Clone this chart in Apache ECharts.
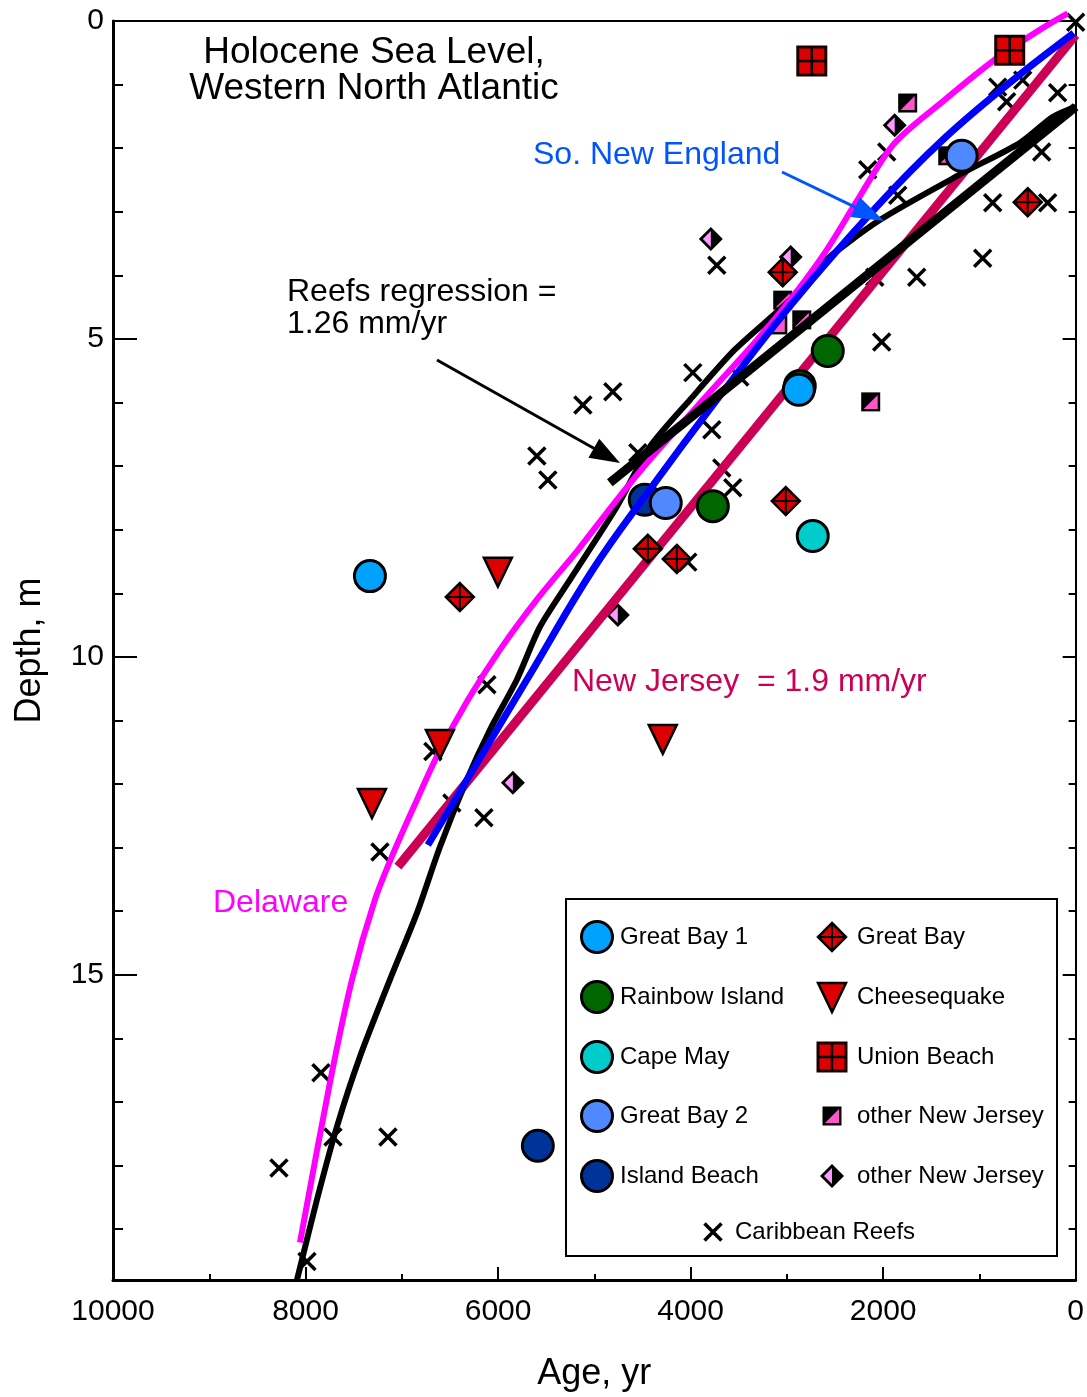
<!DOCTYPE html>
<html>
<head>
<meta charset="utf-8">
<title>Holocene Sea Level, Western North Atlantic</title>
<script src="https://cdn.jsdelivr.net/npm/echarts@6.0.0/dist/echarts.min.js"></script>
<style>
  html, body { margin: 0; padding: 0; background: #fff; }
  #chart { width: 1087px; height: 1397px; }
</style>
</head>
<body>
<div id="chart"></div>
<script>
// 样点数据: [年龄 yr, 深度 m]
const greatBay1 = [[7331, 8.73], [2876, 5.80]];
const rainbowIsland = [[2575, 5.19], [3769, 7.63], [2866, 5.74]];
const capeMay = [[2731, 8.10]];
const greatBay2 = [[1184, 2.12], [4258, 7.58]];
const islandBeach = [[5587, 17.69], [4476, 7.53]];
const greatBay = [[6397, 9.06], [4444, 8.30], [4143, 8.46], [3011, 7.55], [3043, 3.95], [498, 2.85]];
const cheesequake = [[6002, 8.66], [7310, 12.30], [6604, 11.37], [4289, 11.29]];
const unionBeach = [[2741, 0.63], [685, 0.46]];
const otherNJSquare = [[1745, 1.29], [2129, 5.99], [1329, 2.12], [3043, 4.39], [2845, 4.70], [3094, 4.78]];
const otherNJDiamond = [[3790, 3.43], [2960, 3.71], [1880, 1.64], [4756, 9.34], [5846, 11.98]];
const caribbeanReefs = [
  [0, 0.02], [810, 1.04], [550, 0.93], [717, 1.27], [187, 1.13], [1963, 2.06], [2160, 2.34],
  [1848, 2.74], [353, 2.06], [862, 2.86], [291, 2.86], [966, 3.73], [1651, 4.03], [2087, 4.03],
  [3728, 3.84], [2015, 5.05], [3977, 5.53], [3489, 5.60], [4808, 5.83], [5119, 6.04], [3780, 6.43],
  [3676, 7.03], [3562, 7.34], [5597, 6.84], [5483, 7.22], [4548, 6.79], [4029, 8.51], [6116, 10.44],
  [6677, 11.49], [6480, 12.30], [6147, 12.53], [7227, 13.07], [7840, 16.54], [7715, 17.55],
  [7144, 17.55], [8276, 18.04], [7985, 19.51]
];

// 曲线
const delawareCurve = [
  [8058, 19.21], [7747, 16.70], [7518, 15.08], [7279, 13.82], [7072, 13.03], [6843, 12.25],
  [6636, 11.57], [6314, 10.68], [5981, 9.89], [5597, 9.10], [5171, 8.32], [4766, 7.53],
  [4424, 6.90], [3873, 5.96], [3313, 5.02], [2887, 4.23], [2586, 3.60], [2264, 2.81],
  [1880, 1.92], [1360, 1.24], [841, 0.61], [374, 0.14], [83, -0.12]
];
const newEnglandCurve = [
  [6729, 12.96], [5701, 10.36], [5016, 8.63], [4424, 7.37], [3728, 5.96], [2939, 4.43],
  [2066, 2.92], [1381, 1.87], [685, 0.97], [21, 0.19]
];
const newJerseyLine = [[7040, 13.30], [0, 0.22]];
const reefCurve = [
  [8089, 19.80], [7882, 18.54], [7674, 17.39], [7435, 16.29], [7124, 15.08], [6843, 14.03],
  [6604, 12.99], [6324, 11.93], [6085, 11.15], [5805, 10.36], [5566, 9.53], [5254, 8.79],
  [4766, 7.64], [4424, 6.70], [4008, 5.96], [3541, 5.17], [2970, 4.39], [2658, 3.84],
  [2035, 3.13], [1173, 2.39], [582, 1.92], [239, 1.51], [0, 1.35]
];
const reefRegression = [[4839, 7.26], [0, 1.35]];

// 坐标轴
const ageTicks = { min: 0, max: 10000, interval: 2000 };
const depthTicks = { min: 0, max: 19.8, interval: 5 };

const FONT = '"Liberation Sans", Arial, sans-serif';
const RED = '#dd0000';

// 各类符号 (像素坐标), 图中与图例共用
const markerShapes = {
  circle: (x, y, color) => [
    { type: 'circle', shape: { cx: x, cy: y, r: 15.5 }, style: { fill: color, stroke: '#000', lineWidth: 3 } }
  ],
  diamondCross: (x, y) => [
    { type: 'polygon', shape: { points: [[x, y - 14], [x + 14, y], [x, y + 14], [x - 14, y]] },
      style: { fill: RED, stroke: '#000', lineWidth: 2.5 } },
    { type: 'line', shape: { x1: x, y1: y - 14, x2: x, y2: y + 14 }, style: { stroke: '#000', lineWidth: 2 } },
    { type: 'line', shape: { x1: x - 14, y1: y, x2: x + 14, y2: y }, style: { stroke: '#000', lineWidth: 2 } }
  ],
  triangleDown: (x, y) => [
    { type: 'polygon', shape: { points: [[x - 14, y - 14], [x + 14, y - 14], [x, y + 15]] },
      style: { fill: RED, stroke: '#000', lineWidth: 2.5 } }
  ],
  gridSquare: (x, y) => [
    { type: 'rect', shape: { x: x - 14, y: y - 14, width: 28, height: 28 },
      style: { fill: RED, stroke: '#1a0000', lineWidth: 3 } },
    { type: 'line', shape: { x1: x, y1: y - 14, x2: x, y2: y + 14 }, style: { stroke: '#000', lineWidth: 2.5 } },
    { type: 'line', shape: { x1: x - 14, y1: y, x2: x + 14, y2: y }, style: { stroke: '#000', lineWidth: 2.5 } }
  ],
  halfSquare: (x, y) => [
    { type: 'rect', shape: { x: x - 9.5, y: y - 9.5, width: 19, height: 19 }, style: { fill: '#000' } },
    { type: 'polygon', shape: { points: [[x + 7, y - 7], [x + 7, y + 7], [x - 7, y + 7]] }, style: { fill: '#ff55cc' } }
  ],
  halfDiamond: (x, y) => [
    { type: 'polygon', shape: { points: [[x, y - 12], [x + 12, y], [x, y + 12], [x - 12, y]] }, style: { fill: '#000' } },
    { type: 'polygon', shape: { points: [[x, y - 8], [x, y + 8], [x - 8, y]] }, style: { fill: '#ff99ff' } }
  ],
  cross: (x, y) => [
    { type: 'line', shape: { x1: x - 8.5, y1: y - 8.5, x2: x + 8.5, y2: y + 8.5 }, style: { stroke: '#000', lineWidth: 3.5 } },
    { type: 'line', shape: { x1: x + 8.5, y1: y - 8.5, x2: x - 8.5, y2: y + 8.5 }, style: { stroke: '#000', lineWidth: 3.5 } }
  ]
};

// 通过坐标系绘制散点
const pointSeries = (name, data, kind, color, z) => ({
  name: name,
  type: 'custom',
  coordinateSystem: 'cartesian2d',
  data: data,
  z: z,
  renderItem: (params, api) => {
    const p = api.coord([api.value(0), api.value(1)]);
    return { type: 'group', children: markerShapes[kind](p[0], p[1], color) };
  }
});

const lineSeries = (name, data, color, width, smooth, z) => ({
  name: name,
  type: 'line',
  data: data,
  symbol: 'none',
  smooth: smooth,
  clip: false,
  z: z,
  lineStyle: { color: color, width: width, cap: 'butt', join: 'round' }
});

// 图例 (两列 + 底部一项)
const legendLeft = [
  ['Great Bay 1', 'circle', '#00a2ff'],
  ['Rainbow Island', 'circle', '#006600'],
  ['Cape May', 'circle', '#00cccc'],
  ['Great Bay 2', 'circle', '#5088ff'],
  ['Island Beach', 'circle', '#003399']
];
const legendRight = [
  ['Great Bay', 'diamondCross'],
  ['Cheesequake', 'triangleDown'],
  ['Union Beach', 'gridSquare'],
  ['other New Jersey', 'halfSquare'],
  ['other New Jersey', 'halfDiamond']
];

const textEl = (text, x, y, size, color, align) => ({
  type: 'text', x: x, y: y, z: 100,
  style: {
    text: text, font: size + 'px ' + FONT, fill: color,
    textAlign: align || 'left', textVerticalAlign: 'middle', verticalAlign: 'middle'
  }
});

const arrowEl = (x1, y1, x2, y2, color, len, half) => {
  const d = Math.hypot(x2 - x1, y2 - y1);
  const ux = (x2 - x1) / d, uy = (y2 - y1) / d;
  const bx = x2 - ux * len, by = y2 - uy * len;
  return [
    { type: 'line', z: 100, shape: { x1: x1, y1: y1, x2: bx + ux * 4, y2: by + uy * 4 },
      style: { stroke: color, lineWidth: 3 } },
    { type: 'polygon', z: 100,
      shape: { points: [[x2, y2], [bx - uy * half, by + ux * half], [bx + uy * half, by - ux * half]] },
      style: { fill: color } }
  ];
};

const legendEls = [
  { type: 'rect', z: 90, shape: { x: 566, y: 899, width: 491, height: 357 },
    style: { fill: '#fff', stroke: '#000', lineWidth: 2 } }
];
const rowY = [937, 997, 1057, 1116, 1176];
legendLeft.forEach((item, i) => {
  markerShapes[item[1]](597, rowY[i], item[2]).forEach(el => legendEls.push(Object.assign({ z: 100 }, el)));
  legendEls.push(textEl(item[0], 620, rowY[i], 24, '#000'));
});
legendRight.forEach((item, i) => {
  markerShapes[item[1]](832, rowY[i]).forEach(el => legendEls.push(Object.assign({ z: 100 }, el)));
  legendEls.push(textEl(item[0], 857, rowY[i], 24, '#000'));
});
markerShapes.cross(713, 1232).forEach(el => legendEls.push(Object.assign({ z: 100 }, el)));
legendEls.push(textEl('Caribbean Reefs', 735, 1232, 24, '#000'));

const chart = echarts.init(document.getElementById('chart'));

const tickLabel = { color: '#000', fontSize: 30, fontFamily: FONT };

const option = {
  animation: false,
  grid: { left: 113, right: 11, top: 21, bottom: 117 },
  xAxis: [
    {
      type: 'value', position: 'bottom', inverse: true,
      min: ageTicks.min, max: ageTicks.max, interval: ageTicks.interval,
      axisLine: { onZero: false, lineStyle: { color: '#000', width: 3 } },
      axisTick: { inside: true, length: 13, lineStyle: { color: '#000', width: 2 } },
      minorTick: { show: true, splitNumber: 2, length: 6, lineStyle: { color: '#000', width: 2 } },
      splitLine: { show: false },
      axisLabel: Object.assign({ margin: 17, formatter: v => String(v) }, tickLabel),
      name: 'Age, yr', nameLocation: 'middle', nameGap: 76,
      nameTextStyle: { color: '#000', fontSize: 36, fontFamily: FONT }
    },
    {
      type: 'value', position: 'top', inverse: true,
      min: ageTicks.min, max: ageTicks.max,
      axisLine: { onZero: false, lineStyle: { color: '#000', width: 2 } },
      axisTick: { show: false }, axisLabel: { show: false }, splitLine: { show: false }
    }
  ],
  yAxis: [
    {
      type: 'value', position: 'left', inverse: true,
      min: depthTicks.min, max: depthTicks.max, interval: depthTicks.interval,
      axisLine: { onZero: false, lineStyle: { color: '#000', width: 3 } },
      axisTick: { inside: true, length: 24, lineStyle: { color: '#000', width: 2 } },
      minorTick: { show: true, splitNumber: 5, length: 10, lineStyle: { color: '#000', width: 2 } },
      splitLine: { show: false },
      axisLabel: Object.assign({ margin: 9, showMaxLabel: false }, tickLabel),
      name: 'Depth, m', nameLocation: 'middle', nameRotate: 90, nameGap: 65,
      nameTextStyle: { color: '#000', fontSize: 36, fontFamily: FONT }
    },
    {
      type: 'value', position: 'right', inverse: true,
      min: depthTicks.min, max: depthTicks.max, interval: depthTicks.interval,
      axisLine: { onZero: false, lineStyle: { color: '#000', width: 2 } },
      axisTick: { inside: true, length: 13, lineStyle: { color: '#000', width: 2 } },
      minorTick: { show: true, splitNumber: 5, length: 7, lineStyle: { color: '#000', width: 2 } },
      splitLine: { show: false },
      axisLabel: { show: false }
    }
  ],
  series: [
    pointSeries('Caribbean Reefs', caribbeanReefs, 'cross', null, 2),
    pointSeries('other New Jersey', otherNJSquare, 'halfSquare', null, 2),
    pointSeries('other New Jersey 2', otherNJDiamond, 'halfDiamond', null, 2),
    pointSeries('Island Beach', islandBeach, 'circle', '#003399', 2),
    lineSeries('New Jersey', newJerseyLine, '#cc0055', 9, false, 3),
    lineSeries('Reefs', reefCurve, '#000', 6, 0.25, 3),
    lineSeries('Delaware', delawareCurve, '#ff00ff', 6, 0.3, 3),
    lineSeries('So. New England', newEnglandCurve, '#0000ff', 7, 0.4, 3),
    lineSeries('Reefs regression', reefRegression, '#000', 9, false, 3),
    pointSeries('Rainbow Island', rainbowIsland, 'circle', '#006600', 4),
    pointSeries('Cape May', capeMay, 'circle', '#00cccc', 4),
    pointSeries('Great Bay 1', greatBay1, 'circle', '#00a2ff', 4),
    pointSeries('Great Bay 2', greatBay2, 'circle', '#5088ff', 4),
    pointSeries('Great Bay', greatBay, 'diamondCross', null, 4),
    pointSeries('Cheesequake', cheesequake, 'triangleDown', null, 4),
    pointSeries('Union Beach', unionBeach, 'gridSquare', null, 4)
  ],
  graphic: [
    textEl('Holocene Sea Level,', 374, 53, 37, '#000', 'center'),
    textEl('Western North Atlantic', 374, 89, 37, '#000', 'center'),
    textEl('So. New England', 533, 155, 32, '#0055ff'),
    textEl('Reefs regression =', 287, 292, 32, '#000'),
    textEl('1.26 mm/yr', 287, 324, 32, '#000'),
    textEl('New Jersey  = 1.9 mm/yr', 572, 682, 32, '#cc0055'),
    textEl('Delaware', 213, 903, 32, '#ff00ff'),
    ...arrowEl(437, 360, 620, 463, '#000', 30, 11),
    ...arrowEl(782, 172, 884, 221, '#0055ff', 32, 11),
    ...legendEls
  ]
};

chart.setOption(option);
window.addEventListener('resize', () => {
  chart.resize();
});
</script>
</body>
</html>
